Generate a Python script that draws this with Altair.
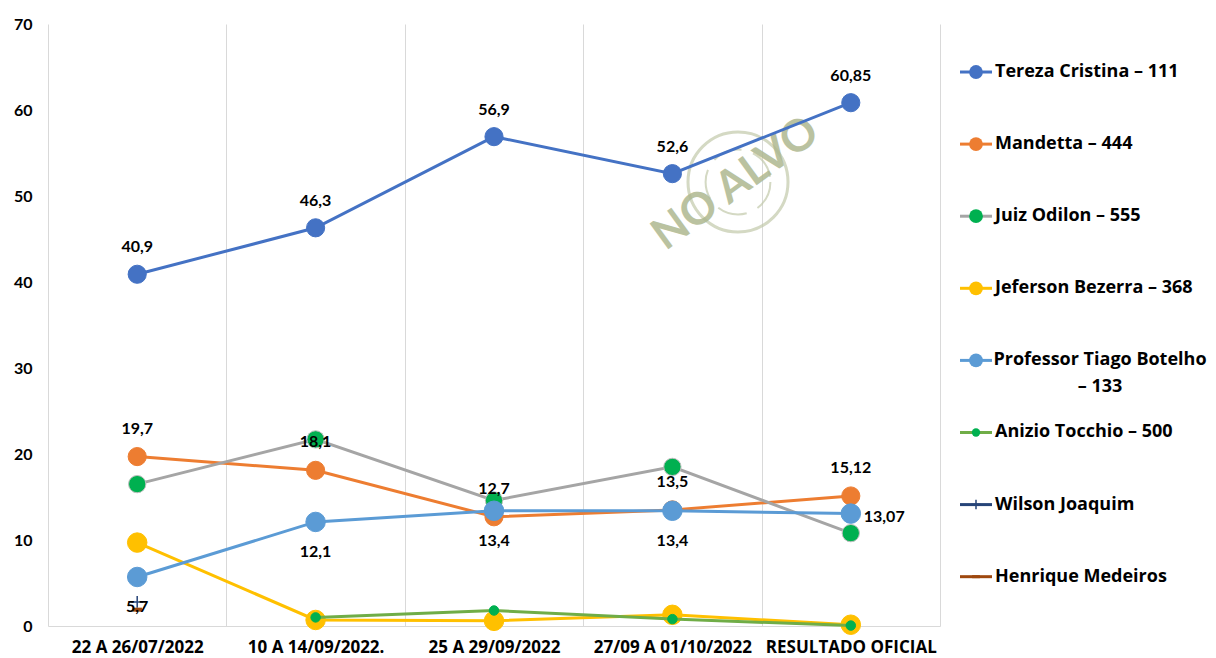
import altair as alt
import pandas as pd

FONT = "Lato"
FONT2 = "Open Sans"

categories = ["22 A 26/07/2022", "10 A 14/09/2022.", "25 A 29/09/2022",
              "27/09 A 01/10/2022", "RESULTADO OFICIAL"]

series_names = ["Tereza Cristina – 111", "Mandetta – 444", "Juiz Odilon – 555",
                "Jeferson Bezerra – 368", "Professor Tiago Botelho – 133",
                "Anizio Tocchio – 500", "Wilson Joaquim", "Henrique Medeiros"]

tereza = [40.9, 46.3, 56.9, 52.6, 60.85]
mandetta = [19.7, 18.1, 12.7, 13.5, 15.12]
odilon = [16.5, 21.7, 14.6, 18.5, 10.8]
jeferson = [9.7, 0.7, 0.6, 1.3, 0.15]
tiago = [5.7, 12.1, 13.4, 13.4, 13.07]
anizio = [None, 1.0, 1.8, 0.8, 0.05]
wilson = [2.8, None, None, None, None]
henrique = [1.9, None, None, None, None]

all_values = [tereza, mandetta, odilon, jeferson, tiago, anizio, wilson, henrique]

line_colors = ["#4472C4", "#ED7D31", "#A5A5A5", "#FFC000", "#5B9BD5", "#70AD47", "#264478", "#9E480E"]
marker_colors = ["#4472C4", "#ED7D31", "#00B050", "#FFC000", "#5B9BD5", "#00B050", "#264478", "#9E480E"]
marker_sizes = [330, 330, 300, 380, 380, 90, 140, 90]

rows = []
for name, vals in zip(series_names, all_values):
    for c, v in zip(categories, vals):
        if v is not None:
            rows.append({"serie": name, "cat": c, "valor": v,
                         "rotulo": f"{v:g}".replace(".", ",")})
df = pd.DataFrame(rows)

x_enc = alt.X("cat:N", sort=categories,
              scale=alt.Scale(type="band", domain=categories, paddingInner=0, paddingOuter=0),
              axis=alt.Axis(title=None, labelAngle=0, grid=True, tickBand="extent",
                            gridColor="#d9d9d9", gridWidth=1, ticks=False,
                            domainColor="#d9d9d9", labelFont=FONT2, labelFontWeight="bold",
                            labelFontSize=17, labelColor="#000000", labelPadding=13))
y_enc = alt.Y("valor:Q", scale=alt.Scale(domain=[0, 70], nice=False),
              axis=alt.Axis(title=None, values=list(range(0, 71, 10)), grid=False,
                            domain=False, ticks=False, labelFont=FONT, labelFontWeight="bold",
                            labelFontSize=16, labelColor="#000000", labelPadding=16))

base = alt.Chart(df)

# watermark
wm = alt.Chart(pd.DataFrame({"t": ["NO ALVO"]}))
layers = [
    wm.mark_point(shape="circle", filled=False, stroke="#c2c9ab", strokeWidth=3, size=10000,
                  opacity=0.7).encode(x=alt.value(690), y=alt.value(158)),
    wm.mark_point(shape="circle", filled=False, stroke="#c2c9ab", strokeWidth=2, size=4200,
                  opacity=0.7, strokeDash=[30, 12]).encode(x=alt.value(690), y=alt.value(158)),
    wm.mark_text(font=FONT, fontWeight="bold", fontSize=44, color="#aeb890", angle=324,
                 opacity=0.85).encode(x=alt.value(688), y=alt.value(160), text="t:N"),
]

plus_path = "M-1,0L1,0M0,-1L0,1"
dash_path = "M-1,0L1,0"

for i, name in enumerate(series_names):
    sub = base.transform_filter(alt.datum.serie == name)
    layers.append(sub.mark_line(color=line_colors[i], strokeWidth=3).encode(x=x_enc, y=y_enc))
    if name == "Wilson Joaquim":
        layers.append(sub.mark_point(shape=plus_path, filled=False, stroke=marker_colors[i],
                                     strokeWidth=1.5, size=marker_sizes[i], opacity=1)
                      .encode(x=x_enc, y=y_enc))
    elif name == "Henrique Medeiros":
        layers.append(sub.mark_point(shape=dash_path, filled=False, stroke=marker_colors[i],
                                     strokeWidth=4, size=marker_sizes[i], opacity=1)
                      .encode(x=x_enc, y=y_enc))
    else:
        stroke = "#bfbfbf" if name == "Juiz Odilon – 555" else marker_colors[i]
        layers.append(sub.mark_point(shape="circle", filled=True, fill=marker_colors[i],
                                     stroke=stroke, strokeWidth=1, size=marker_sizes[i],
                                     opacity=1).encode(x=x_enc, y=y_enc))

txt = dict(font=FONT, fontWeight="bold", fontSize=16, color="#000000", baseline="middle")
layers.append(base.transform_filter(alt.datum.serie == series_names[0])
              .mark_text(dy=-27, **txt).encode(x=x_enc, y=y_enc, text="rotulo:N"))
layers.append(base.transform_filter(alt.datum.serie == series_names[1])
              .mark_text(dy=-28, **txt).encode(x=x_enc, y=y_enc, text="rotulo:N"))
layers.append(base.transform_filter((alt.datum.serie == series_names[4]) &
                                    (alt.datum.cat != categories[-1]))
              .mark_text(dy=30, **txt).encode(x=x_enc, y=y_enc, text="rotulo:N"))
layers.append(base.transform_filter((alt.datum.serie == series_names[4]) &
                                    (alt.datum.cat == categories[-1]))
              .mark_text(dx=13, dy=3, align="left", **txt).encode(x=x_enc, y=y_enc, text="rotulo:N"))

main = alt.layer(*layers).properties(width=892, height=602)

# legend
leg_df = pd.DataFrame({"serie": series_names, "idx": list(range(len(series_names))),
                       "lc": line_colors, "mc": marker_colors, "sz": marker_sizes,
                       "label": [n if i != 4 else "Professor Tiago Botelho\n– 133"
                                 for i, n in enumerate(series_names)]})
leg = alt.Chart(leg_df)
ly = alt.Y("idx:Q", scale=alt.Scale(domain=[-0.666, 7.684], reverse=True), axis=None)
circ = leg.transform_filter(alt.datum.idx < 6)
ltxt = dict(baseline="middle", font=FONT2, fontWeight="bold", fontSize=18, color="#000000")
legend = alt.layer(
    leg.mark_rule(strokeWidth=3).encode(x=alt.value(10), x2=alt.value(42), y=ly,
                                        color=alt.Color("lc:N", scale=None)),
    circ.transform_filter(alt.datum.idx != 5).mark_point(shape="circle", filled=True, opacity=1, size=190)
        .encode(x=alt.value(26), y=ly, color=alt.Color("mc:N", scale=None)),
    circ.transform_filter(alt.datum.idx == 5).mark_point(shape="circle", filled=True, opacity=1, size=70)
        .encode(x=alt.value(26), y=ly, color=alt.Color("mc:N", scale=None)),
    leg.transform_filter(alt.datum.idx == 6).mark_point(shape=plus_path, filled=False, strokeWidth=1.5,
                                                        size=90, opacity=1)
        .encode(x=alt.value(26), y=ly, color=alt.Color("mc:N", scale=None)),
    leg.transform_filter(alt.datum.idx == 7).mark_point(shape=dash_path, filled=False, strokeWidth=3,
                                                        size=60, opacity=1)
        .encode(x=alt.value(26), y=ly, color=alt.Color("mc:N", scale=None)),
    leg.transform_filter(alt.datum.idx != 4).mark_text(align="left", **ltxt)
        .encode(x=alt.value(45), y=ly, text="label:N"),
    leg.transform_filter(alt.datum.idx == 4).mark_text(align="center", lineBreak="\n", lineHeight=27, **ltxt)
        .encode(x=alt.value(150), y=ly, text="label:N"),
).properties(width=240, height=602)

chart = alt.hconcat(main, legend, spacing=10, bounds="flush").properties(
    padding={"left": 5, "top": 8, "right": 0, "bottom": 5}
).configure(background="#ffffff").configure_view(stroke=None)

chart.save("out.html", embed_options={"renderer": "svg", "actions": False})
